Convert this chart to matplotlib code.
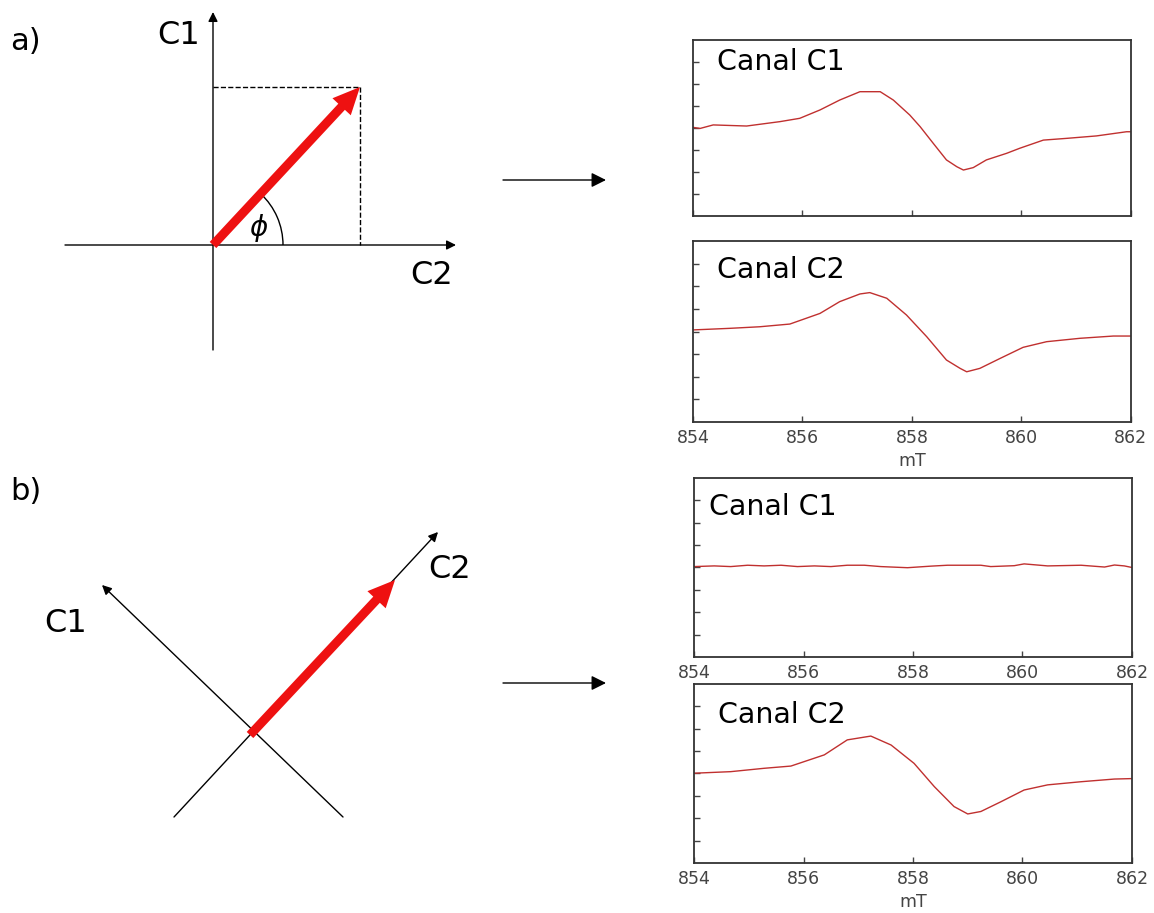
import matplotlib
matplotlib.use("Agg")
import matplotlib.pyplot as plt
import numpy as np
from matplotlib.patches import FancyArrow, Arc

# spectra, field in mT, amplitude in arbitrary units
field_a1 = [854.0, 854.13, 854.37, 854.98, 855.59, 855.95, 856.32, 856.68, 857.05, 857.42,
            857.66, 857.96, 858.15, 858.39, 858.63, 858.82, 858.94, 859.12, 859.36, 859.73,
            859.97, 860.40, 860.83, 861.37, 861.92, 862.0]
amp_a1 = [0.03, -0.02, 0.14, 0.09, 0.29, 0.44, 0.82, 1.27, 1.65, 1.65,
          1.27, 0.59, 0.06, -0.70, -1.45, -1.76, -1.91, -1.80, -1.45, -1.15,
          -0.92, -0.55, -0.47, -0.36, -0.17, -0.17]

field_a2 = [854.0, 854.67, 855.22, 855.77, 856.32, 856.68, 857.05, 857.23, 857.54, 857.90,
            858.27, 858.63, 858.88, 859.0, 859.24, 859.61, 860.03, 860.46, 861.07, 861.68, 862.0]
amp_a2 = [0.07, 0.14, 0.21, 0.33, 0.80, 1.32, 1.66, 1.72, 1.47, 0.73,
          -0.23, -1.26, -1.63, -1.78, -1.63, -1.19, -0.70, -0.45, -0.30, -0.20, -0.20]

field_b1 = [854.0, 854.37, 854.67, 854.98, 855.28, 855.59, 855.89, 856.20, 856.50, 856.80,
            857.11, 857.41, 857.90, 858.33, 858.63, 859.24, 859.42, 859.85, 860.03, 860.46,
            861.07, 861.50, 861.68, 861.86, 862.0]
amp_b1 = [0.04, 0.07, 0.04, 0.10, 0.07, 0.10, 0.04, 0.07, 0.04, 0.10,
          0.10, 0.04, -0.01, 0.06, 0.10, 0.10, 0.04, 0.08, 0.16, 0.07,
          0.10, 0.02, 0.11, 0.07, 0.0]

field_b2 = [854.0, 854.67, 855.28, 855.77, 856.38, 856.80, 857.23, 857.60, 858.02, 858.39,
            858.75, 859.0, 859.24, 859.61, 860.03, 860.46, 861.07, 861.68, 862.0]
amp_b2 = [0.01, 0.08, 0.23, 0.33, 0.83, 1.50, 1.67, 1.27, 0.45, -0.59,
          -1.48, -1.81, -1.70, -1.26, -0.74, -0.51, -0.37, -0.25, -0.23]

field_ticks = [854, 856, 858, 860, 862]

# schematic vectors (figure pixel coordinates, y downwards)
a_origin = (213, 245)
a_tip = (360, 87)
b_origin = (250, 735)
b_tip = (395, 580)

line_red = "#c0302f"
arrow_red = "#ee1111"

fig = plt.figure(figsize=(11.54, 9.13), dpi=100)


def spectrum(rect, field, amp, title, title_x, title_y, labels=True, xlabel=True):
    ax = fig.add_axes(rect)
    ax.plot(field, amp, color=line_red, lw=1.0)
    ax.set_xlim(854, 862)
    ax.set_ylim(-4, 4)
    ax.set_xticks(field_ticks)
    ax.set_yticks(np.arange(-3, 4))
    ax.set_yticklabels([])
    ax.tick_params(axis="both", direction="in", length=4, width=1, color="#444444")
    ax.tick_params(axis="x", labelsize=12.5, labelcolor="#444444", pad=5)
    if not labels:
        ax.set_xticklabels([])
    if xlabel:
        ax.set_xlabel("mT", fontsize=12.5, color="#444444", labelpad=4)
    for s in ax.spines.values():
        s.set_color("#333333")
        s.set_linewidth(1.3)
    ax.text(title_x, title_y, title, transform=ax.transAxes, fontsize=20.5,
            va="center", ha="left")
    return ax


spectrum([0.6005, 0.7634, 0.3795, 0.1928], field_a1, amp_a1, "Canal C1", 0.055, 0.875,
         labels=False, xlabel=False)
spectrum([0.6005, 0.5378, 0.3795, 0.1982], field_a2, amp_a2, "Canal C2", 0.055, 0.84)
spectrum([0.6014, 0.2804, 0.3795, 0.1961], field_b1, amp_b1, "Canal C1", 0.034, 0.838,
         xlabel=False)
spectrum([0.6014, 0.0548, 0.3795, 0.1961], field_b2, amp_b2, "Canal C2", 0.055, 0.827)

# overlay in pixel units for the vector diagrams
ov = fig.add_axes([0, 0, 1, 1], zorder=-1)
ov.set_xlim(0, 1154)
ov.set_ylim(913, 0)
ov.axis("off")

axis_arrow = dict(arrowstyle="-|>", color="black", lw=1.0, mutation_scale=14,
                  shrinkA=0, shrinkB=0)

# a) axes
ov.annotate("", xy=(456, a_origin[1]), xytext=(65, a_origin[1]), arrowprops=axis_arrow)
ov.annotate("", xy=(a_origin[0], 12), xytext=(a_origin[0], 350), arrowprops=axis_arrow)
ov.plot([a_origin[0], a_tip[0]], [a_tip[1], a_tip[1]], ls="--", color="black", lw=1.0)
ov.plot([a_tip[0], a_tip[0]], [a_tip[1], a_origin[1]], ls="--", color="black", lw=1.0)
ang = np.degrees(np.arctan2(a_origin[1] - a_tip[1], a_tip[0] - a_origin[0]))
ov.add_patch(Arc(a_origin, 140, 140, theta1=-ang, theta2=0, color="black", lw=1.0))
ov.add_patch(FancyArrow(a_origin[0], a_origin[1], a_tip[0] - a_origin[0], a_tip[1] - a_origin[1],
                        width=9, head_width=25, head_length=27, length_includes_head=True,
                        color=arrow_red, lw=0, zorder=5))
ov.text(259, 228, r"$\phi$", fontsize=20, ha="center", va="center")
ov.text(10, 42, "a)", fontsize=22, ha="left", va="center")
ov.text(179, 36, "C1", fontsize=23, ha="center", va="center")
ov.text(432, 276, "C2", fontsize=23, ha="center", va="center")

# b) rotated axes
ov.annotate("", xy=(102, 585), xytext=(343, 817), arrowprops=axis_arrow)
ov.annotate("", xy=(438, 532), xytext=(174, 817), arrowprops=axis_arrow)
ov.add_patch(FancyArrow(b_origin[0], b_origin[1], b_tip[0] - b_origin[0], b_tip[1] - b_origin[1],
                        width=9, head_width=25, head_length=27, length_includes_head=True,
                        color=arrow_red, lw=0, zorder=5))
ov.text(10, 492, "b)", fontsize=22, ha="left", va="center")
ov.text(66, 624, "C1", fontsize=23, ha="center", va="center")
ov.text(450, 570, "C2", fontsize=23, ha="center", va="center")

# arrows pointing to the spectra
mid_arrow = dict(arrowstyle="-|>", color="black", lw=1.0, mutation_scale=22,
                 shrinkA=0, shrinkB=0)
ov.annotate("", xy=(606, 180), xytext=(503, 180), arrowprops=mid_arrow)
ov.annotate("", xy=(606, 683), xytext=(503, 683), arrowprops=mid_arrow)

fig.savefig("out.png", dpi=100)
